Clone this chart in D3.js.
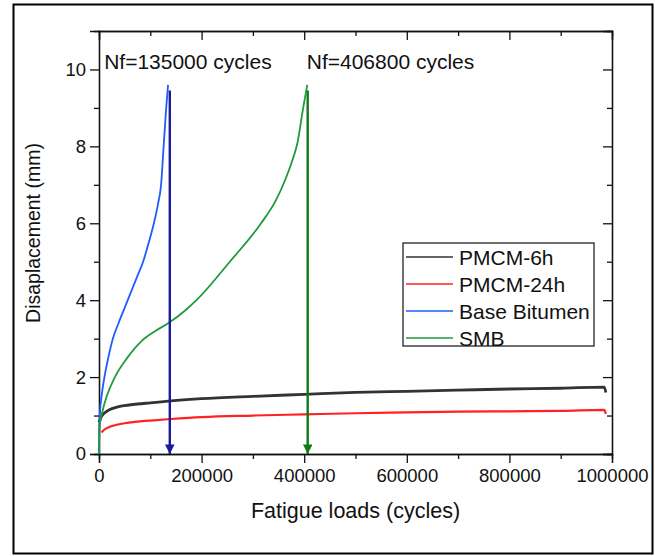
<!DOCTYPE html>
<html>
<head>
<meta charset="utf-8">
<title>Fatigue displacement</title>
<script src="https://cdnjs.cloudflare.com/ajax/libs/d3/7.8.5/d3.min.js"></script>
<style>
  body { margin: 0; background: #fff; }
  text { font-family: "Liberation Sans", Arial, sans-serif; fill: #111; }
</style>
</head>
<body>
<div id="ChartArea"></div>
<script>
// data (cycles, mm)
const pmcm6Cycles  = [0, 5000, 10000, 20000, 35000, 50000, 75000, 100000, 140000, 200000, 300000, 400000, 500000, 600000, 700000, 800000, 900000, 985000, 988000];
const pmcm6Disp    = [0.82, 0.98, 1.06, 1.15, 1.22, 1.26, 1.30, 1.33, 1.38, 1.44, 1.50, 1.55, 1.60, 1.63, 1.66, 1.69, 1.71, 1.74, 1.60];
const pmcm24Cycles = [5000, 10000, 20000, 35000, 50000, 75000, 100000, 140000, 200000, 300000, 400000, 500000, 600000, 700000, 800000, 900000, 985000, 988000];
const pmcm24Disp   = [0.56, 0.63, 0.70, 0.76, 0.80, 0.84, 0.87, 0.91, 0.96, 1.00, 1.03, 1.06, 1.08, 1.10, 1.11, 1.12, 1.15, 1.04];
const baseCycles   = [0, 500, 2000, 5000, 10600, 18000, 27000, 38000, 50000, 62000, 74000, 86000, 97000, 107000, 115000, 121000, 126000, 131000, 134600];
const baseDisp     = [0, 0.6, 1.1, 1.5, 2.0, 2.5, 3.0, 3.4, 3.8, 4.2, 4.6, 5.0, 5.5, 6.0, 6.5, 7.0, 8.0, 9.0, 9.6];
const smbCycles    = [0, 500, 2000, 6500, 15000, 31000, 55000, 84000, 110000, 137000, 165000, 190000, 255000, 316000, 345000, 362000, 376000, 387000, 398000, 406000];
const smbDisp      = [0, 0.5, 0.8, 1.1, 1.5, 2.0, 2.5, 2.95, 3.2, 3.42, 3.7, 4.0, 5.0, 6.0, 6.6, 7.1, 7.6, 8.1, 9.0, 9.6];

const seriesNames  = ["PMCM-6h", "PMCM-24h", "Base Bitumen", "SMB"];
const seriesColors = ["#333333", "#ff2222", "#1f5cff", "#1f9a3c"];

const failCycles = [138000, 406800];
const failLabels = ["Nf=135000 cycles", "Nf=406800 cycles"];
const failColors = ["#1a1a9e", "#0f7a1a"];

const xTicks = [0, 200000, 400000, 600000, 800000, 1000000];
const yTicks = [0, 2, 4, 6, 8, 10];

const W = 655, H = 556;
const margin = {top: 31, right: 43, bottom: 102, left: 99};
const width = W - margin.left - margin.right;
const height = H - margin.top - margin.bottom;

const svg = d3.select("#ChartArea").append("svg")
  .attr("width", W).attr("height", H);

// outer frame
svg.append("rect")
  .attr("x", 13.5).attr("y", 4.5).attr("width", 639).attr("height", 549)
  .attr("fill", "none").attr("stroke", "#000").attr("stroke-width", 2);

const g = svg.append("g")
  .attr("transform", "translate(" + margin.left + "," + margin.top + ")");

const x = d3.scaleLinear().domain([0, 1000000]).range([0, width]);
const y = d3.scaleLinear().domain([0, 11]).range([height, 0]);

// axes (Origin-like: outward bottom/left, inward top/right)
const fmt = d3.format("d");
function styleAxis(sel) {
  sel.select(".domain").attr("stroke", "#111").attr("stroke-width", 1.3);
  sel.selectAll(".tick line").attr("stroke", "#111").attr("stroke-width", 1.3);
  sel.selectAll("text").style("font-size", "18.5px").attr("fill", "#222");
}
const minorX = d3.range(100000, 1000000, 200000);
const minorY = d3.range(1, 11, 2);

g.append("g").attr("transform", "translate(0," + height + ")")
  .call(d3.axisBottom(x).tickValues(xTicks).tickFormat(fmt).tickSize(9).tickPadding(6))
  .call(styleAxis);
g.append("g").attr("transform", "translate(0," + height + ")")
  .call(d3.axisBottom(x).tickValues(minorX).tickFormat("").tickSize(5))
  .call(styleAxis);
g.append("g")
  .call(d3.axisLeft(y).tickValues(yTicks).tickSize(9).tickPadding(4))
  .call(styleAxis);
g.append("g")
  .call(d3.axisLeft(y).tickValues(minorY).tickFormat("").tickSize(5))
  .call(styleAxis);
g.append("g")
  .call(d3.axisTop(x).tickValues(xTicks).tickFormat("").tickSize(-9))
  .call(styleAxis);
g.append("g")
  .call(d3.axisTop(x).tickValues(minorX).tickFormat("").tickSize(-5))
  .call(styleAxis);
g.append("g").attr("transform", "translate(" + width + ",0)")
  .call(d3.axisRight(y).tickValues(yTicks).tickFormat("").tickSize(-9))
  .call(styleAxis);
g.append("g").attr("transform", "translate(" + width + ",0)")
  .call(d3.axisRight(y).tickValues(minorY).tickFormat("").tickSize(-5))
  .call(styleAxis);

// curves
const seriesX = [pmcm6Cycles, pmcm24Cycles, baseCycles, smbCycles];
const seriesY = [pmcm6Disp, pmcm24Disp, baseDisp, smbDisp];
const line = d3.line()
  .x(d => x(d[0])).y(d => y(d[1]))
  .curve(d3.curveMonotoneX);
const widths = [2.8, 2.2, 1.8, 1.8];
seriesX.forEach(function(xs, i) {
  const pts = xs.map((v, k) => [v, seriesY[i][k]]);
  g.append("path")
    .datum(pts)
    .attr("fill", "none")
    .attr("stroke", seriesColors[i])
    .attr("stroke-width", widths[i])
    .attr("d", line);
});

// failure arrows
const defs = svg.append("defs");
failColors.forEach(function(c, i) {
  defs.append("marker")
    .attr("id", "arrow" + i)
    .attr("viewBox", "0 0 10 10")
    .attr("refX", 10).attr("refY", 5)
    .attr("markerWidth", 4.2).attr("markerHeight", 4)
    .attr("markerUnits", "strokeWidth")
    .attr("orient", "auto")
    .append("path").attr("d", "M0,0 L10,5 L0,10 Z").attr("fill", c);
});
failCycles.forEach(function(c, i) {
  g.append("line")
    .attr("x1", x(c)).attr("x2", x(c))
    .attr("y1", y(9.45)).attr("y2", y(0))
    .attr("stroke", failColors[i]).attr("stroke-width", 2.4)
    .attr("marker-end", "url(#arrow" + i + ")");
});

// annotations
const labelX = [10000, 405000];
failLabels.forEach(function(t, i) {
  g.append("text")
    .attr("x", x(labelX[i])).attr("y", y(10.0) + 0)
    .style("font-size", "21px")
    .attr("fill", "#111")
    .text(t);
});

// axis titles
svg.append("text")
  .attr("x", margin.left + width / 2).attr("y", 518)
  .attr("text-anchor", "middle")
  .style("font-size", "21.5px")
  .text("Fatigue loads (cycles)");
svg.append("text")
  .attr("transform", "translate(40,233) rotate(-90)")
  .attr("text-anchor", "middle")
  .style("font-size", "19.5px")
  .text("Disaplacement (mm)");

// legend
const lg = svg.append("g").attr("transform", "translate(403,243)");
lg.append("rect")
  .attr("width", 191).attr("height", 103)
  .attr("fill", "#fff").attr("stroke", "#222").attr("stroke-width", 1.3);
seriesNames.forEach(function(n, i) {
  const yy = 14 + i * 27;
  lg.append("line")
    .attr("x1", 3).attr("x2", 50).attr("y1", yy).attr("y2", yy)
    .attr("stroke", seriesColors[i]).attr("stroke-width", 1.6);
  lg.append("text")
    .attr("x", 56).attr("y", yy + 7.5)
    .style("font-size", "21px")
    .text(n);
});
</script>
</body>
</html>
